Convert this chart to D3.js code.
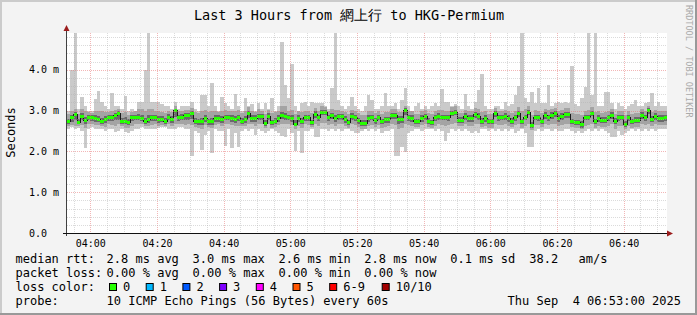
<!DOCTYPE html>
<html>
<head>
<meta charset="utf-8">
<script src="https://cdn.jsdelivr.net/npm/d3@7"></script>
<style>
body { margin: 0; background: #f3f3f3; }
svg { display: block; font-family: "DejaVu Sans Mono", monospace; }
text { white-space: pre; }
</style>
</head>
<body>
<script>
var width = 697,
    height = 315;

// 180 one-minute steps, 03:53 -> 06:53, values in 1/100 ms
var startTime = Date.UTC(2025, 8, 4, 3, 53),
    endTime = Date.UTC(2025, 8, 4, 6, 53);

var medV = [
 272,282,290,270,286,276,284,282,280,278,272,278,282,282,288,292,272,274,270,282,284,284,280,272,278,282,282,278,278,272,284,278,300,282,284,288,
 288,292,274,272,272,280,272,272,280,280,278,283,283,280,278,282,274,278,292,280,280,286,286,268,286,270,274,280,288,286,284,280,267,280,274,282,
 282,271,291,282,296,296,282,288,280,286,286,278,271,286,282,275,269,269,280,283,275,283,272,277,277,288,288,277,277,300,282,280,272,272,280,286,
 274,271,282,286,283,283,282,294,296,276,276,286,280,280,290,286,274,280,272,272,292,282,283,286,280,274,282,292,272,283,295,263,283,282,272,288,
 282,288,292,280,286,290,290,272,270,270,265,283,283,294,272,280,276,276,282,288,274,282,283,265,282,272,276,276,288,282,300,278,286,280,280,282];

var maxV = [
 300,400,500,305,333,310,300,300,329,347,320,310,305,343,310,310,305,335,300,305,300,320,320,400,500,320,320,320,315,310,310,305,320,305,310,310,
 310,320,305,300,339,339,310,368,310,300,332,318,310,305,341,310,300,330,310,315,300,318,305,318,305,330,300,310,469,363,330,414,310,300,318,320,
 310,320,318,318,318,310,305,355,500,325,310,305,310,332,310,305,300,310,339,325,305,305,310,343,310,310,318,305,325,355,310,300,310,318,305,310,
 305,310,318,310,353,320,320,310,315,310,305,341,310,305,320,351,389,310,305,305,310,310,305,320,310,315,339,359,500,330,320,345,318,355,318,318,
 362,310,318,320,318,320,318,408,315,310,330,357,500,339,500,310,310,345,345,318,305,318,310,305,310,315,325,310,310,318,320,343,310,320,310,310];

var minV = [
 255,260,255,258,250,208,255,260,255,255,255,250,255,255,248,250,255,248,245,250,255,255,260,255,255,255,255,258,260,260,255,255,255,260,260,255,
 255,189,250,245,203,240,250,197,255,250,250,213,255,208,245,210,250,255,250,255,240,255,250,245,250,255,250,245,237,235,255,245,200,250,196,250,
 250,255,234,234,255,255,250,255,250,255,250,255,255,250,245,245,250,255,250,255,250,255,245,250,250,255,188,188,210,198,245,250,255,255,250,255,
 255,255,250,255,250,226,245,255,250,255,250,255,250,245,250,245,255,255,250,255,250,255,250,255,250,255,245,250,255,245,210,210,250,255,250,255,
 255,250,255,250,250,255,255,250,245,250,245,250,255,250,255,250,255,250,245,234,234,250,240,245,250,255,250,255,250,255,250,255,250,255,255,255];

var p2V = [
 262,265,262,262,264,258,266,266,265,264,262,260,266,264,262,266,262,258,258,262,266,266,266,262,262,264,266,262,264,262,266,262,266,266,266,264,
 266,264,260,258,256,264,260,258,264,266,262,266,266,264,262,262,262,262,268,266,262,268,266,258,266,258,260,264,266,266,266,264,256,262,258,266,
 264,260,266,262,270,270,264,266,262,266,266,262,258,266,264,260,256,256,262,264,260,264,258,260,262,266,264,256,258,266,264,262,260,260,264,266,
 260,258,262,266,264,262,264,268,270,262,262,266,262,262,268,266,260,262,258,258,266,264,264,266,262,260,264,266,258,262,268,252,264,264,260,266,
 264,266,268,262,264,268,268,260,258,258,254,262,264,268,258,262,260,260,262,266,256,262,262,254,262,258,260,260,266,264,268,262,266,264,264,264];

var p9V = [
 292,300,305,292,305,300,296,295,300,300,298,296,296,300,302,304,294,296,290,296,298,305,305,300,305,304,300,298,296,294,298,296,310,298,300,302,
 302,306,296,294,300,302,296,300,298,296,298,302,300,298,298,302,294,300,308,298,296,304,300,292,302,294,296,300,310,312,300,302,292,298,296,300,
 300,294,306,300,310,308,300,304,302,302,300,296,292,302,298,294,290,290,298,300,294,300,292,296,296,304,304,296,296,312,300,298,292,292,298,302,
 294,292,300,302,302,300,300,308,310,294,294,302,298,300,306,304,296,298,292,292,306,300,300,302,298,294,300,308,298,304,312,290,302,300,294,304,
 302,304,306,298,302,306,306,294,292,292,290,300,302,308,296,298,294,296,300,304,292,298,300,288,298,292,294,294,304,300,310,296,302,298,298,298];

var p4V = [
 266,272,276,266,276,268,276,274,272,272,266,270,274,274,276,278,266,266,264,274,276,276,274,266,270,274,274,270,272,266,276,270,284,274,276,278,
 278,280,266,264,264,272,264,264,272,272,270,276,276,272,270,274,266,270,282,272,272,278,278,262,278,264,266,272,280,278,276,272,262,272,266,274,
 274,264,282,274,288,288,274,280,272,278,278,270,264,278,274,268,262,262,272,276,268,276,266,270,270,280,280,268,270,290,274,272,266,266,272,278,
 268,264,274,278,276,276,274,286,288,270,270,278,272,272,282,278,268,272,266,266,284,274,276,278,272,268,274,284,266,276,288,258,276,274,266,280,
 274,280,284,272,278,282,282,266,264,264,258,276,276,286,266,272,270,270,274,280,268,274,276,260,274,266,270,270,280,274,292,272,278,272,272,274];

var p7V = [
 280,290,296,280,294,284,290,288,290,286,282,286,288,288,294,298,282,284,280,290,290,292,288,282,288,290,290,286,286,282,292,286,304,290,292,294,
 294,298,282,280,282,288,280,282,288,288,286,290,290,288,286,290,282,286,298,288,288,292,292,276,294,278,282,288,296,294,290,288,276,288,282,290,
 290,278,298,290,302,302,290,294,288,292,292,286,278,294,290,282,276,276,288,290,282,290,280,284,284,294,294,286,286,306,290,288,280,280,288,292,
 282,278,290,294,290,290,290,300,302,284,284,294,288,288,296,294,282,288,280,280,298,290,290,294,288,282,290,298,280,290,302,272,290,290,280,296,
 290,296,298,288,294,296,296,280,278,278,274,290,290,300,280,288,284,284,290,296,282,290,290,274,290,280,284,284,296,290,306,286,294,288,288,290];

var yTicks = [0, 1, 2, 3, 4];
var yLabels = ["0.0", "1.0 m", "2.0 m", "3.0 m", "4.0 m"];

var lossLabels = ["0", "1", "2", "3", "4", "5", "6-9", "10/10"];
var lossColors = ["#26ff00", "#00b8ff", "#0059ff", "#7e00ff", "#ff00ff", "#ff5500", "#ff0000", "#a10000"];

var rttStats = ["2.8 ms avg", "3.0 ms max", "2.6 ms min", "2.8 ms now", "0.1 ms sd"];
var lossStats = ["0.00 % avg", "0.00 % max", "0.00 % min", "0.00 % now"];

var svg = d3.select("body").append("svg")
    .attr("width", width)
    .attr("height", height);

// frame
svg.append("rect").attr("width", width).attr("height", height).attr("fill", "#f3f3f3");
svg.append("path").attr("d", "M0,0H697V2H2V315H0Z").attr("fill", "#cbcbcb");
svg.append("path").attr("d", "M697,0V315H0V313H695V0Z").attr("fill", "#999999");

var x = d3.scaleUtc()
    .domain([new Date(startTime), new Date(endTime)])
    .range([67, 667]);

var y = d3.scaleLinear()
    .domain([0, 4.9])
    .range([233, 33]);

function tAt(i) { return new Date(startTime + i * 60000); }
function v(a) { return a / 100; }

svg.append("rect")
    .attr("x", 67).attr("y", 33).attr("width", 600).attr("height", 200)
    .attr("fill", "#ffffff");

svg.append("clipPath").attr("id", "plot")
  .append("rect").attr("x", 67).attr("y", 33).attr("width", 600).attr("height", 200);

var g = svg.append("g").attr("clip-path", "url(#plot)");

var bands = [
    {lo: minV, hi: maxV, color: "#cacaca"},
    {lo: p2V, hi: p9V, color: "#a4a4a4"},
    {lo: p4V, hi: p7V, color: "#6a6a6a"}
];

bands.forEach(function(b) {
    g.append("g").selectAll("rect")
        .data(d3.range(medV.length))
        .enter().append("rect")
        .attr("shape-rendering", "crispEdges")
        .attr("x", function(i) { return x(tAt(i)); })
        .attr("width", function(i) { return x(tAt(i + 1)) - x(tAt(i)); })
        .attr("y", function(i) { return y(v(b.hi[i])); })
        .attr("height", function(i) { return y(v(b.lo[i])) - y(v(b.hi[i])); })
        .attr("fill", b.color);
});

// dark step line under the median
var stepPts = medV.map(function(m, i) { return [x(tAt(i)), y(v(m))]; });
stepPts.push([x(tAt(medV.length)), y(v(medV[medV.length - 1]))]);
g.append("path")
    .attr("d", d3.line().curve(d3.curveStepAfter)(stepPts))
    .attr("fill", "none")
    .attr("stroke", "#1a1a1a")
    .attr("stroke-width", 1)
    .attr("shape-rendering", "crispEdges");

g.append("g").selectAll("rect")
    .data(medV)
    .enter().append("rect")
    .attr("shape-rendering", "crispEdges")
    .attr("x", function(d, i) { return x(tAt(i)); })
    .attr("width", function(d, i) { return x(tAt(i + 1)) - x(tAt(i)); })
    .attr("y", function(d) { return y(v(d)) - 1.5; })
    .attr("height", 3)
    .attr("fill", lossColors[0]);

// grid on top
var grid = svg.append("g").attr("shape-rendering", "crispEdges").attr("stroke-width", 1).attr("stroke-dasharray", "1,1");
var minorT = d3.utcMinute.every(5).range(new Date(startTime), new Date(endTime));
minorT.forEach(function(t) {
    var major = t.getUTCMinutes() % 20 === 0;
    grid.append("line")
        .attr("x1", Math.round(x(t)) + 0.5).attr("x2", Math.round(x(t)) + 0.5)
        .attr("y1", 33).attr("y2", 233)
        .attr("stroke", major ? "rgba(230,110,110,0.5)" : "rgba(175,175,175,0.45)");
});
d3.range(1, 25).forEach(function(k) {
    var val = k * 0.2, major = k % 5 === 0;
    var yy = Math.round(y(val)) + 0.5;
    grid.append("line")
        .attr("x1", 67).attr("x2", 667)
        .attr("y1", yy).attr("y2", yy)
        .attr("stroke", major ? "rgba(230,110,110,0.5)" : "rgba(175,175,175,0.45)");
});

// axes
svg.append("line").attr("x1", 66.5).attr("x2", 66.5).attr("y1", 29).attr("y2", 236)
    .attr("stroke", "#404040");
svg.append("line").attr("x1", 63).attr("x2", 669).attr("y1", 233.5).attr("y2", 233.5)
    .attr("stroke", "#111");
svg.append("path").attr("d", "M66.5,25L63.5,31L69.5,31Z").attr("fill", "#9b1c1c");
svg.append("path").attr("d", "M673,233.5L667,230.5L667,236.5Z").attr("fill", "#9b1c1c");

svg.append("g").selectAll("text")
    .data(yTicks)
    .enter().append("text")
    .attr("x", 29)
    .attr("y", function(d) { return y(d) + 3.5; })
    .attr("font-size", 10)
    .attr("fill", "#000")
    .text(function(d, i) { return yLabels[i]; });

var xAxis = svg.append("g")
    .attr("transform", "translate(0,233)")
    .call(d3.axisBottom(x)
        .ticks(d3.utcMinute.every(20))
        .tickFormat(d3.utcFormat("%H:%M"))
        .tickSize(0)
        .tickPadding(6.5));
xAxis.select(".domain").remove();
xAxis.selectAll("text")
    .attr("font-family", "DejaVu Sans Mono")
    .attr("font-size", 10)
    .attr("fill", "#000");

// titles
svg.append("text")
    .attr("x", 349).attr("y", 19.5)
    .attr("text-anchor", "middle")
    .attr("font-size", 13.5)
    .attr("fill", "#000")
    .text("Last 3 Hours from 網上行 to HKG-Permium");

svg.append("text")
    .attr("transform", "translate(15,132.5) rotate(-90)")
    .attr("text-anchor", "middle")
    .attr("font-size", 12)
    .attr("fill", "#000")
    .text("Seconds");

svg.append("text")
    .attr("transform", "translate(685.5,5) rotate(90)")
    .attr("font-size", 8.5)
    .attr("fill", "#aaaaaa")
    .text("RRDTOOL / TOBI OETIKER");

// legend
var leg = svg.append("g").attr("font-size", 12).attr("fill", "#000");
var statX = [106.6, 192.6, 278.6, 364.3, 450.3];
leg.append("text").attr("x", 15.5).attr("y", 263).text("median rtt:");
rttStats.forEach(function(s, i) {
    leg.append("text").attr("x", statX[i]).attr("y", 263).text(s);
});
leg.append("text").attr("x", 529.3).attr("y", 263).text("38.2");
leg.append("text").attr("x", 578.5).attr("y", 263).text("am/s");

leg.append("text").attr("x", 15.5).attr("y", 277).text("packet loss:");
lossStats.forEach(function(s, i) {
    leg.append("text").attr("x", statX[i]).attr("y", 277).text(s);
});

leg.append("text").attr("x", 15.5).attr("y", 291).text("loss color:");
var boxX = [109, 145.7, 182.4, 219.1, 255.8, 292.5, 329.2, 381.7];
lossLabels.forEach(function(l, i) {
    leg.append("rect")
        .attr("x", boxX[i] + 0.5).attr("y", 283.5)
        .attr("width", 7).attr("height", 7)
        .attr("fill", lossColors[i])
        .attr("stroke", "#000");
    leg.append("text").attr("x", boxX[i] + 14).attr("y", 291).text(l);
});

leg.append("text").attr("x", 15.5).attr("y", 305).text("probe:");
leg.append("text").attr("x", 106.6).attr("y", 305).text("10 ICMP Echo Pings (56 Bytes) every 60s");
leg.append("text").attr("x", 681).attr("y", 305).attr("text-anchor", "end").text("Thu Sep  4 06:53:00 2025");
</script>
</body>
</html>
